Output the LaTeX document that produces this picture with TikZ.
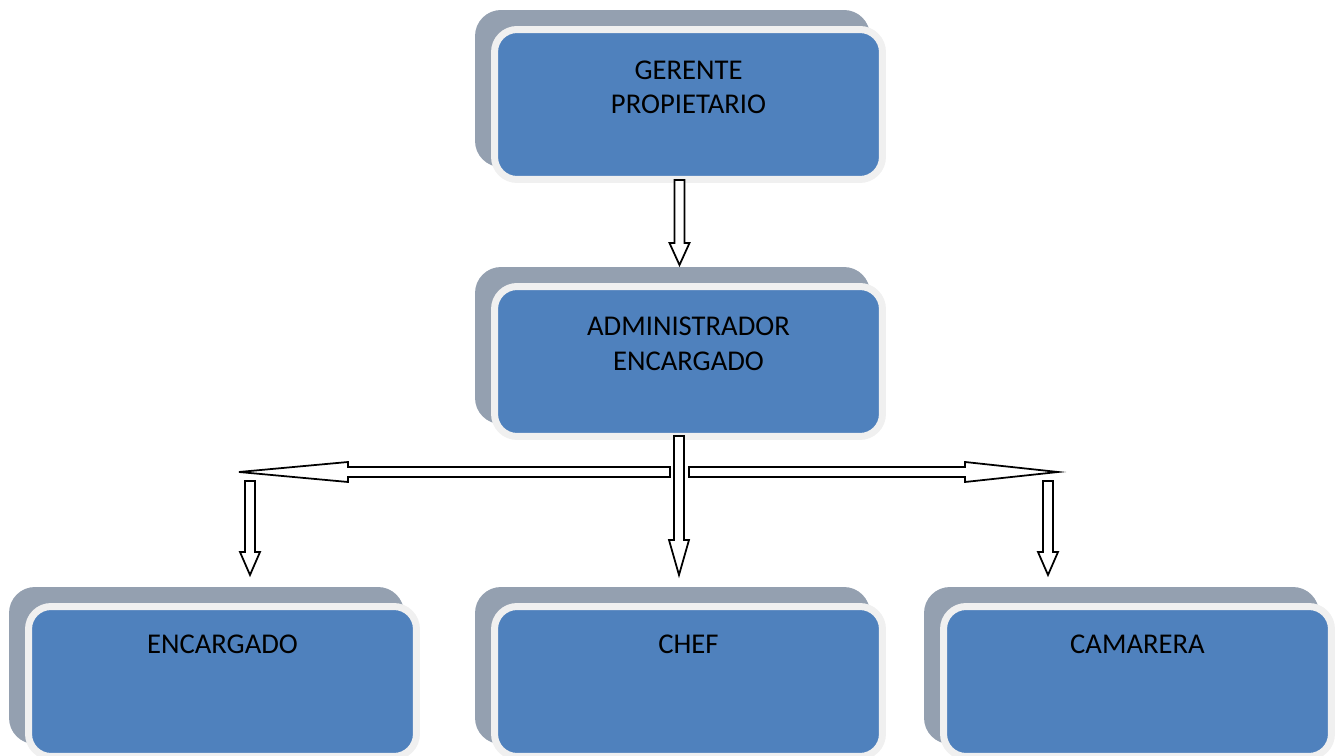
\documentclass[tikz,border=0pt]{standalone}
\usepackage{fontspec}
\setmainfont{Carlito}
\usetikzlibrary{calc,positioning,shadows}
\definecolor{boxblue}{HTML}{4F81BD}
\definecolor{boxrim}{HTML}{F0F0F0}
\definecolor{boxback}{HTML}{94A0B0}
\newcommand\blockarrow{}
\def\blockarrow(#1)(#2)(#3){% \blockarrow(start)(tip)(head length)
\coordinate (hb) at ($(#2)!#3!(#1)$);
\draw [arrowline]
       ($(#1)!0.1cm!90:(#2)$) -- ($(hb)!0.1cm!90:(#2)$) -- ($(hb)!0.2cm!90:(#2)$)
       -- (#2) -- ($(hb)!0.2cm!-90:(#2)$) -- ($(hb)!0.1cm!-90:(#2)$)
       -- ($(#1)!0.1cm!-90:(#2)$) -- cycle
}

\begin{document}
\begin{tikzpicture}[x=0.02cm, y=-0.02cm,
	box/.style={rectangle, rounded corners=0.45cm, fill=boxblue, draw=boxrim,
		line width=0.14cm, minimum width=7.76cm, minimum height=3cm,
		copy shadow={shadow xshift=-0.32cm, shadow yshift=0.32cm,
			fill=boxback, draw=boxback, line width=0.14cm}},
	boxtext/.style={inner sep=0pt, align=center, font=\fontsize{16.3}{19.6}\selectfont},
	arrowline/.style={draw=black, fill=white, line width=1pt}]
	\useasboundingbox (0,0) rectangle (1343,756);
	%% boxes
	\node[box] (boss) at (688.5,104.5) {};
	\node[box] (admin) at (688.5,361.5) {};
	\node[box] (encargado) at (222.5,681.5) {};
	\node[box] (chef) at (688.5,681.5) {};
	\node[box] (camarera) at (1137.5,681.5) {};
	%% texts
	\node[boxtext, below=0.69cm of boss.north] {GERENTE\\PROPIETARIO};
	\node[boxtext, below=0.68cm of admin.north] {ADMINISTRADOR\\ENCARGADO};
	\node[boxtext, below=0.64cm of encargado.north] {ENCARGADO};
	\node[boxtext, below=0.64cm of chef.north] {CHEF};
	\node[boxtext, below=0.64cm of camarera.north] {CAMARERA};
	%% arrows
	\coordinate (bossout) at (679.5,180);
	\coordinate (adminin) at (679.5,265);
	\coordinate (adminout) at (679,436);
	\coordinate (chefin) at (679,575);
	\coordinate (splitleft) at (670,472);
	\coordinate (endleft) at (239,472);
	\coordinate (splitright) at (689,472);
	\coordinate (endright) at (1058,472);
	\coordinate (encout) at (250,481);
	\coordinate (encin) at (250,575);
	\coordinate (camout) at (1048,481);
	\coordinate (camin) at (1048,575);
	\blockarrow(bossout)(adminin)(0.44cm);
	\blockarrow(adminout)(chefin)(0.7cm);
	\blockarrow(splitleft)(endleft)(2.18cm);
	\blockarrow(splitright)(endright)(1.86cm);
	\blockarrow(encout)(encin)(0.46cm);
	\blockarrow(camout)(camin)(0.46cm);
\end{tikzpicture}
\end{document}
